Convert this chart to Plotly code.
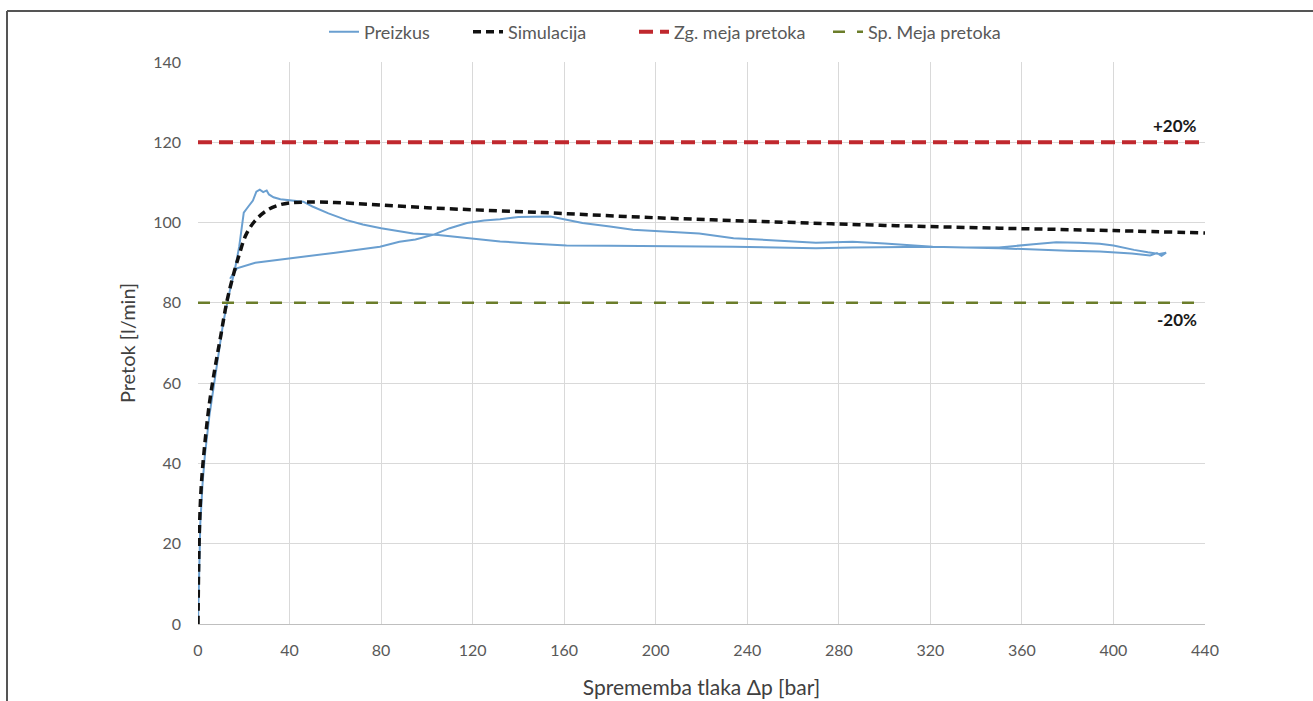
import plotly.graph_objects as go

# Measured flow (hysteresis loop: rising pressure branch then return branch)
test_dp = [0, 0.5, 1, 2, 3, 5, 8, 11, 13.5, 16, 18, 19, 20, 22, 24, 25.5, 27, 28.5, 30, 31, 33,
           36, 40, 46, 50, 57, 65, 72, 80, 94, 105, 118, 132, 145, 161, 180, 200, 234, 270,
           286, 321, 350, 380, 394, 408, 416, 419, 421, 423,
           420, 415, 409, 400, 394, 385, 375, 365, 350, 335, 321, 300, 286, 270, 255, 234,
           219, 205, 190, 180, 168, 154, 140, 132, 125, 117.5, 110, 103, 95, 88, 79.5, 60,
           40, 25, 17, 14]
test_q = [0, 15, 25, 35, 42, 52, 64, 75, 82, 88, 94, 98, 102.5, 104, 105.5, 107.7, 108.2, 107.6,
          108, 107, 106.3, 105.8, 105.6, 105.2, 104, 102.3, 100.6, 99.5, 98.6, 97.3, 96.9, 96.2,
          95.3, 94.8, 94.3, 94.2, 94.1, 94.0, 93.6, 93.8, 94.0, 93.6, 93.0, 92.8, 92.3, 91.8,
          92.4, 91.7, 92.5,
          92.2, 92.6, 93.2, 94.3, 94.7, 95.0, 95.1, 94.6, 93.8, 93.8, 94.0, 94.8, 95.2, 95.0,
          95.4, 96.1, 97.3, 97.7, 98.2, 99.0, 99.9, 101.5, 101.4, 100.8, 100.5, 99.9, 98.6,
          97.0, 95.8, 95.2, 94.0, 92.5, 91.1, 90.0, 88.6, 86.0]

# Simulated flow
sim_dp = [0, 0.3, 0.7, 1.5, 3, 5, 7.5, 10, 12.5, 15, 18, 21, 25, 30, 35, 40, 47, 60, 100,
          150, 200, 250, 300, 350, 400, 440]
sim_q = [0, 15, 25, 35, 45, 55, 64, 72, 80, 86, 92, 97, 100.5, 103, 104.3, 104.9, 105.1,
         105.0, 103.7, 102.5, 101.2, 100.2, 99.3, 98.6, 98.0, 97.4]

# Flow tolerance limits (+/-20 %)
upper_limit = 120
lower_limit = 80
x_range = [0, 440]

font_main = "Lato, 'Open Sans', sans-serif"

L, R, T, B = 198, 108, 62, 77
W, H = 1313, 701
pw, ph = W - L - R, H - T - B


def px_x(p):
    return (p - L) / pw


def px_y(p):
    return (H - B - p) / ph


fig = go.Figure()
fig.add_trace(go.Scatter(x=test_dp, y=test_q, mode="lines", name="Preizkus", legend="legend",
                         line=dict(color="#6a9fd0", width=2)))
fig.add_trace(go.Scatter(x=sim_dp, y=sim_q, mode="lines", name="Simulacija", legend="legend2",
                         line=dict(color="#111111", width=3.5, dash="8px,5px", shape="spline")))
fig.add_trace(go.Scatter(x=x_range, y=[upper_limit] * 2, mode="lines", name="Zg. meja pretoka",
                         legend="legend3",
                         line=dict(color="#c0282e", width=4, dash="14px,7px")))
fig.add_trace(go.Scatter(x=x_range, y=[lower_limit] * 2, mode="lines", name="Sp. Meja pretoka",
                         legend="legend4",
                         line=dict(color="#6b7d2a", width=2.5, dash="12px,12px")))


def legend_box(x_px):
    return dict(orientation="h", x=px_x(x_px), xanchor="left", y=px_y(32), yanchor="middle",
                font=dict(size=18, color="#595959", family=font_main),
                bgcolor="rgba(0,0,0,0)", borderwidth=0)


fig.update_layout(
    width=W, height=H,
    margin=dict(l=L, r=R, t=T, b=B),
    paper_bgcolor="white", plot_bgcolor="white",
    font=dict(family=font_main, color="#595959", size=16),
    showlegend=True,
    legend=legend_box(324),
    legend2=legend_box(468),
    legend3=legend_box(634),
    legend4=legend_box(828),
    xaxis=dict(range=x_range, tickvals=list(range(0, 441, 40)), showgrid=True,
               gridcolor="#d9d9d9", gridwidth=1, zeroline=False, showline=True,
               linecolor="#bfbfbf", linewidth=1, ticks="", ticklabelstandoff=12,
               automargin=False,
               tickfont=dict(size=16, color="#595959"),
               title=dict(text="Sprememba tlaka Δp [bar]", standoff=22,
                          font=dict(size=21, color="#404040"))),
    yaxis=dict(range=[0, 140], tickvals=list(range(0, 141, 20)), showgrid=True,
               gridcolor="#d9d9d9", gridwidth=1, zeroline=False, showline=False,
               ticks="", ticklabelstandoff=16, automargin=False,
               tickfont=dict(size=16, color="#595959"),
               title=dict(text="Pretok [l/min]", standoff=12,
                          font=dict(size=20, color="#404040"))),
    annotations=[
        dict(x=440, y=upper_limit, xref="x", yref="y", text="<b>+20%</b>", showarrow=False,
             xanchor="right", yanchor="bottom", yshift=4, xshift=-6,
             font=dict(size=17, color="#1a1a1a", family=font_main)),
        dict(x=440, y=lower_limit, xref="x", yref="y", text="<b>-20%</b>", showarrow=False,
             xanchor="right", yanchor="top", yshift=-4, xshift=-6,
             font=dict(size=17, color="#1a1a1a", family=font_main)),
    ],
    shapes=[
        dict(type="line", xref="paper", yref="paper", x0=px_x(7), x1=px_x(W + 5),
             y0=px_y(11), y1=px_y(11), line=dict(color="#555555", width=2)),
        dict(type="line", xref="paper", yref="paper", x0=px_x(7), x1=px_x(7),
             y0=px_y(11), y1=px_y(H + 5), line=dict(color="#555555", width=2)),
    ],
)

fig.write_html("out.html")
